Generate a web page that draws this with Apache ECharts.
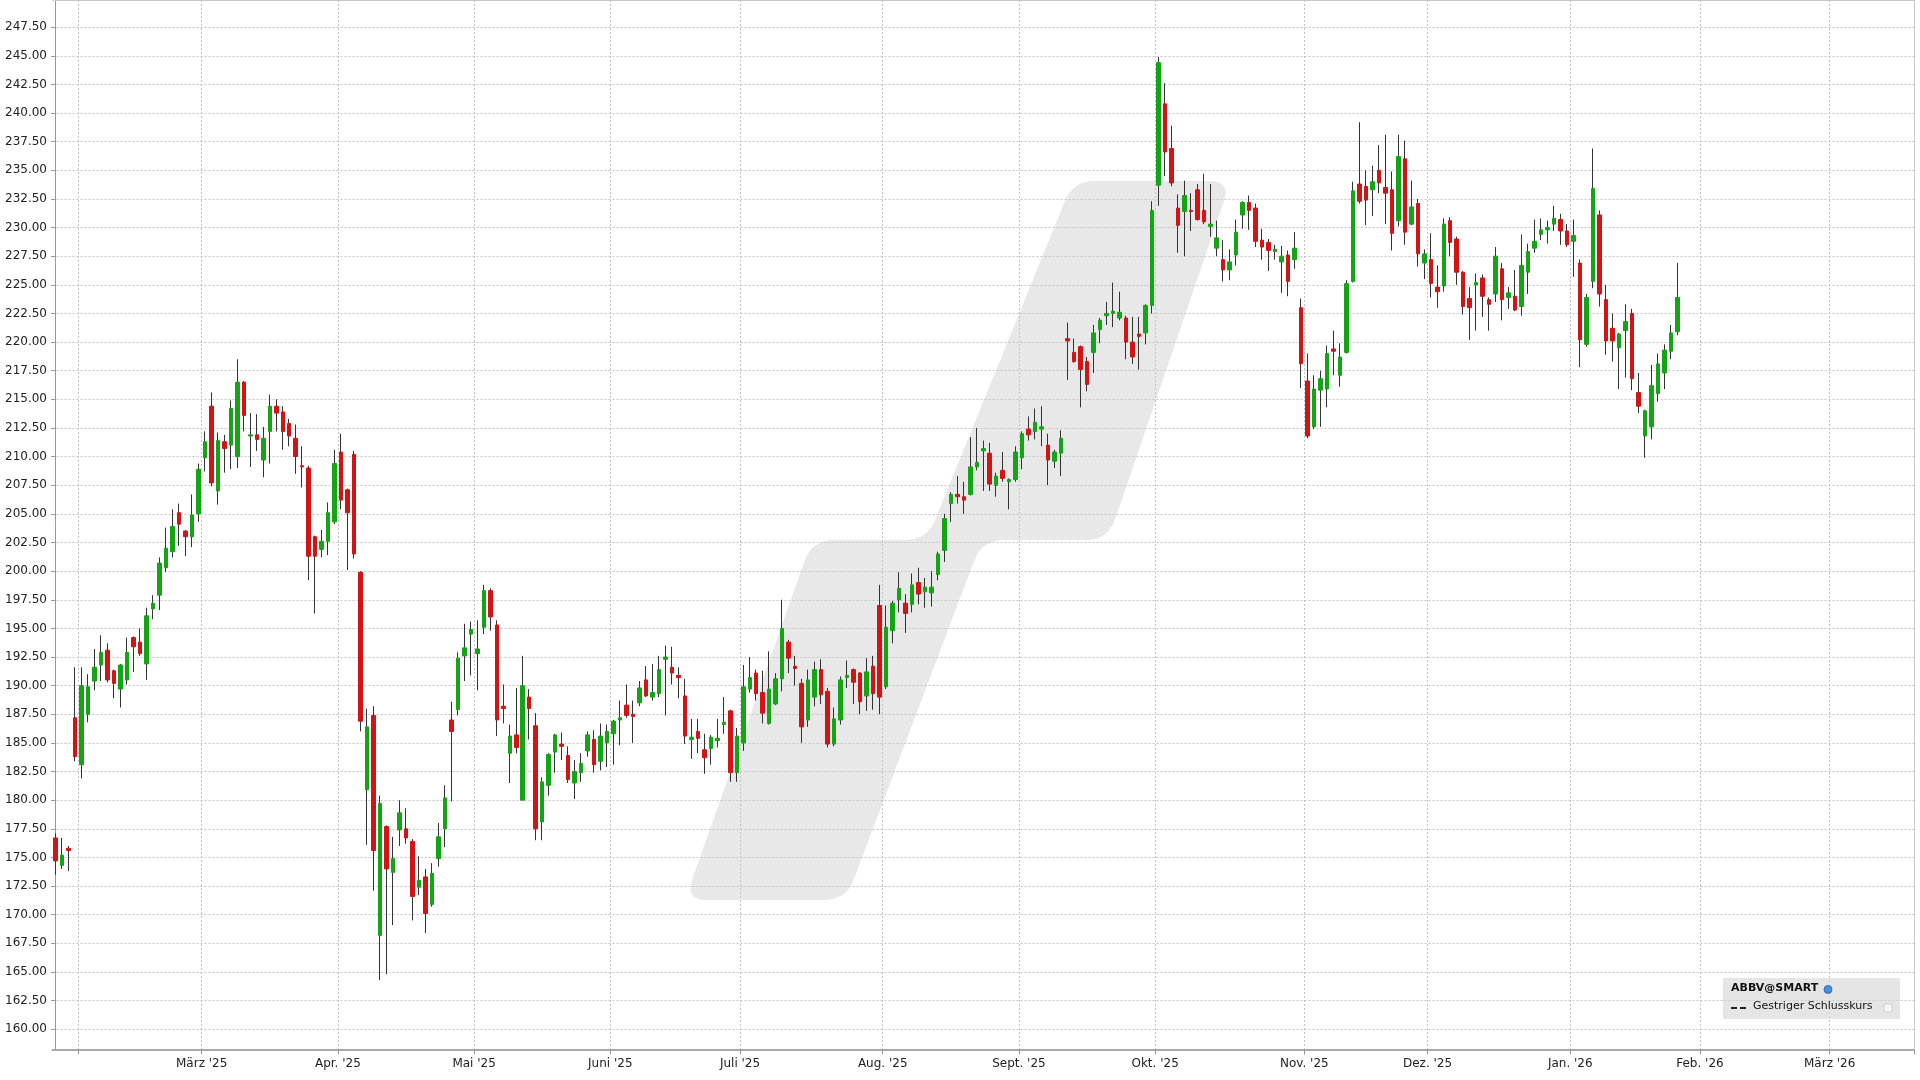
<!DOCTYPE html>
<html><head><meta charset="utf-8">
<script src="https://cdn.jsdelivr.net/npm/echarts@6/dist/echarts.min.js"></script>
<style>html,body{margin:0;padding:0;background:#fff}#c{width:1920px;height:1080px}</style>
</head><body><div id="c"></div>
<script>
// ---- calendar (trading days; future part of the axis = plain weekdays) ----
const firstDay = '2025-01-28';
const lastDay = '2026-03-18';
const holidays = ['2025-02-17','2025-04-18','2025-05-26','2025-06-19','2025-07-04','2025-09-01','2025-11-27','2025-12-25','2026-01-01','2026-01-19'];
const monthNames = ['Jan.','Feb.','März','Apr.','Mai','Juni','Juli','Aug.','Sept.','Okt.','Nov.','Dez.'];
const hiddenMonthLabels = ['2025-02'];

// ---- ABBV@SMART daily OHLC, 28.01.2025 – 27.01.2026 ----
const openVals = [
176.7,174.3,175.8,187.2,183.1,187.5,190.4,191.8,193.1,191.3,
189.7,190.5,194.2,193.8,191.9,196.7,197.9,200.3,201.7,205.1,
203.5,203.0,205.0,209.9,214.4,207.0,211.3,211.0,210.0,216.5,
211.8,211.9,209.7,212.2,214.4,213.9,212.9,211.6,209.2,209.0,
203.0,201.9,202.6,204.3,210.4,207.1,210.2,199.9,180.9,187.4,
168.2,177.7,173.7,177.4,177.5,176.4,172.4,173.3,170.9,174.9,
177.5,187.0,187.9,192.6,194.5,192.8,195.1,198.3,195.3,188.2,
184.1,185.7,180.0,189.0,186.5,178.1,181.3,184.2,184.9,183.9,
181.5,182.4,184.3,185.3,183.4,185.0,185.8,187.0,188.3,187.5,
188.5,190.5,189.0,189.3,192.3,191.6,190.9,189.1,185.3,186.0,
184.4,184.5,185.2,186.6,187.8,182.4,185.0,189.7,191.1,189.4,
186.7,188.4,190.6,193.8,191.7,190.2,187.0,189.0,191.4,189.5,
184.9,187.0,190.7,191.4,191.1,189.1,191.7,197.0,189.9,194.8,
197.5,197.2,197.1,199.0,198.2,198.1,199.7,201.8,205.9,206.7,
206.5,206.7,209.1,210.5,210.3,207.5,208.8,207.8,208.0,209.9,
212.4,212.2,212.4,211.0,209.6,210.3,220.3,219.1,219.6,218.3,
219.1,221.1,222.3,222.5,222.1,222.1,220.0,220.7,220.8,223.2,
233.7,240.8,236.9,231.7,231.4,231.5,233.3,231.5,230.1,228.2,
227.2,226.3,227.6,231.1,232.2,231.7,228.9,228.7,227.9,227.0,
227.6,227.2,223.0,216.6,212.6,215.8,215.9,219.4,217.1,219.1,
225.3,233.8,233.6,233.3,235.0,233.5,233.3,230.6,236.0,230.3,
232.1,226.9,227.2,224.8,224.9,230.6,229.0,226.1,223.8,225.0,
225.6,223.7,224.2,226.4,223.9,224.0,223.1,226.1,228.2,229.4,
229.8,230.3,230.7,229.7,228.8,226.9,219.8,225.3,231.1,223.7,
221.2,219.5,221.0,222.5,215.6,211.8,212.6,215.5,217.3,219.2,220.9];
const closeVals = [
174.7,175.2,175.6,183.8,190.0,189.9,191.6,192.9,190.5,190.2,
191.8,192.9,193.4,192.8,196.1,197.2,200.7,202.0,203.9,204.1,
203.0,204.9,208.9,211.3,207.7,211.4,210.7,214.2,216.5,213.6,
211.9,211.5,211.6,214.4,213.8,212.2,211.8,210.0,209.1,201.3,
201.3,202.6,205.1,209.4,206.2,205.1,201.5,186.9,186.4,175.6,
179.7,174.0,174.9,178.9,176.7,171.6,173.0,170.1,173.6,176.8,
180.2,186.0,192.4,193.3,194.9,193.2,198.3,196.0,187.0,188.0,
185.6,184.6,190.0,188.0,177.5,181.6,184.0,185.7,184.7,181.8,
182.5,183.2,185.7,183.1,185.6,186.0,186.9,187.2,187.4,187.3,
189.8,189.1,189.4,191.4,192.5,191.1,190.7,185.6,185.5,185.4,
183.7,185.5,185.4,186.8,182.4,185.6,189.9,190.7,189.3,187.6,
189.7,190.6,195.0,192.4,191.5,186.4,190.5,191.4,189.2,184.9,
187.1,190.5,190.9,190.3,188.6,191.2,189.3,189.0,195.1,197.2,
198.5,196.3,198.8,198.0,198.6,198.6,201.5,204.6,206.7,206.5,
206.2,209.1,209.5,210.7,207.6,208.3,208.1,208.0,210.4,212.0,
211.9,213.0,212.6,209.7,210.4,211.6,220.1,218.3,217.6,216.3,
220.8,221.9,222.5,222.7,222.6,220.0,218.7,220.5,223.2,231.5,
244.4,236.6,233.9,230.2,232.8,231.4,230.7,230.5,230.3,229.1,
226.3,227.0,229.6,232.2,231.5,228.8,228.3,228.0,228.1,227.5,
225.3,228.2,218.1,211.8,215.9,216.8,219.0,219.2,218.7,225.1,
233.2,232.3,232.4,234.0,233.9,233.0,229.5,236.2,229.6,231.8,
227.7,227.7,225.1,224.4,230.3,228.7,226.1,223.1,223.0,225.2,
224.0,223.3,227.5,223.7,224.3,222.8,226.7,227.9,228.8,229.8,
230.0,230.8,229.7,228.5,229.3,220.2,223.9,233.4,224.2,220.1,
220.1,220.7,221.8,216.8,214.4,214.0,216.2,218.1,219.3,220.8,223.9];
const highVals = [
177.1,176.7,176.0,191.6,191.6,191.0,193.2,194.4,193.7,191.4,
191.9,194.2,194.3,195.0,196.8,197.9,201.2,203.8,205.4,205.9,
203.6,206.7,209.4,212.2,215.6,212.1,211.9,214.9,218.5,216.6,
213.8,213.7,212.6,215.4,215.0,214.4,213.3,212.8,210.9,209.2,
203.1,203.6,206.0,210.6,212.0,207.2,210.5,200.0,188.0,188.2,
180.4,177.8,176.8,180.0,179.3,176.6,175.1,174.0,174.5,178.0,
181.3,188.6,192.9,195.4,195.6,195.7,198.8,198.5,195.7,190.1,
186.6,189.8,192.6,189.7,187.6,182.0,184.1,185.8,185.9,184.7,
183.5,184.1,186.0,186.1,186.7,186.6,187.0,188.7,190.1,188.7,
190.4,191.7,191.9,192.6,193.5,193.4,191.6,190.6,187.1,187.1,
185.8,185.7,187.1,189.0,187.9,186.3,191.8,192.5,191.4,191.3,
193.0,191.1,197.5,194.0,192.6,190.6,191.4,192.1,192.3,189.8,
188.1,190.8,192.2,191.5,191.2,192.4,192.6,198.8,197.0,197.4,
199.9,198.0,199.8,200.3,199.4,200.0,201.7,205.0,206.9,208.3,
207.8,211.7,212.5,211.4,211.2,208.6,210.4,208.1,210.9,212.2,
213.5,214.2,214.4,212.0,210.6,212.3,221.7,220.3,219.7,218.7,
221.5,222.1,223.5,225.2,224.4,222.3,222.2,222.2,223.3,232.3,
244.9,242.6,238.9,232.9,234.1,233.0,233.8,234.7,233.8,230.6,
228.9,228.1,230.7,232.3,232.8,232.1,229.9,229.0,228.5,228.4,
228.0,229.6,223.8,219.0,217.1,217.5,219.7,221.0,219.9,225.4,
234.0,239.2,235.0,235.4,237.2,238.1,234.9,238.1,237.6,234.1,
232.5,228.1,229.5,226.7,230.8,230.9,229.2,226.2,224.8,226.0,
225.9,223.9,228.3,226.9,224.8,226.3,229.4,228.6,230.7,230.8,
230.6,231.9,231.2,230.3,230.7,227.2,224.2,236.9,231.5,225.0,
222.5,220.8,223.3,222.9,217.3,214.1,218.0,219.0,219.8,221.5,226.9];
const lowVals = [
173.5,174.0,173.8,183.4,181.9,186.8,189.6,190.4,190.3,188.9,
188.1,190.1,191.2,192.6,190.5,195.8,196.6,199.9,201.2,202.2,
201.3,202.1,204.3,208.7,207.4,205.8,208.6,208.9,209.0,212.2,
209.1,210.5,208.2,209.4,212.2,210.6,210.9,208.5,207.3,199.2,
196.3,201.2,201.4,204.1,205.4,200.1,201.1,186.0,176.1,172.1,
164.3,164.8,169.1,176.0,176.2,169.5,171.7,168.4,170.7,174.2,
175.9,179.9,187.4,190.4,190.9,189.6,194.5,194.8,185.6,186.7,
181.5,184.1,180.0,185.3,176.5,176.5,180.4,182.4,183.5,181.5,
180.1,181.6,183.8,182.4,182.6,182.9,183.1,184.8,187.2,185.0,
188.2,189.0,188.7,189.0,187.4,190.1,188.9,184.9,183.6,184.1,
182.3,183.1,184.6,185.8,181.6,181.6,184.3,189.4,188.7,186.7,
186.6,188.3,189.5,191.1,190.0,185.0,186.4,188.2,188.4,184.6,
184.7,186.6,189.8,188.4,187.5,187.8,187.9,187.5,189.7,193.7,
196.4,194.6,196.4,197.1,196.8,196.9,199.2,200.8,204.3,205.9,
205.0,206.6,208.8,207.0,207.0,206.5,207.8,205.4,207.8,208.9,
211.4,211.5,210.9,207.5,209.0,208.3,216.7,218.2,214.3,215.7,
217.3,219.9,221.5,221.3,221.9,218.5,218.1,217.6,219.8,222.5,
231.9,234.5,233.6,227.8,227.5,229.7,230.6,230.3,229.2,227.5,
225.3,225.4,226.7,229.9,229.8,228.3,227.2,226.2,227.2,224.3,
224.0,226.4,216.0,211.6,212.4,212.6,214.3,217.1,216.1,219.0,
225.2,232.1,230.2,231.0,233.0,230.3,228.0,230.1,228.5,230.2,
226.6,225.5,223.9,223.0,224.4,227.5,225.0,222.4,220.2,221.0,
222.2,221.0,223.5,221.9,222.9,222.7,222.3,224.2,227.8,228.9,
228.6,229.7,228.5,228.3,225.7,217.8,219.6,224.7,223.1,218.9,
218.3,215.9,216.9,215.8,213.8,209.9,211.5,214.8,215.9,218.5,220.6];

// ---- build category axis ----
const dates = [];
(function(){
  const hs = new Set(holidays);
  let d = new Date(firstDay + 'T00:00:00Z');
  const end = new Date(lastDay + 'T00:00:00Z');
  while (d <= end) {
    const wd = d.getUTCDay();
    const s = d.toISOString().slice(0,10);
    if (wd !== 0 && wd !== 6 && !hs.has(s)) dates.push(s);
    d = new Date(d.getTime() + 86400000);
  }
})();
const monthStart = new Set();
for (let i = 1; i < dates.length; i++) if (dates[i].slice(0,7) !== dates[i-1].slice(0,7)) monthStart.add(i);
const isLabel = i => monthStart.has(i) && !hiddenMonthLabels.includes(dates[i].slice(0,7));
const fmtMonth = v => monthNames[+v.slice(5,7) - 1] + " '" + v.slice(2,4);

const wickData = openVals.map((o, i) => { const m = (o + closeVals[i]) / 2; return [m, m, lowVals[i], highVals[i]]; });
const bodyData = openVals.map((o, i) => [o, closeVals[i], Math.min(o, closeVals[i]), Math.max(o, closeVals[i])]);

// decorative background band (pixel outline)
function roundedPoly(pts, r, steps) {
  const out = [], n = pts.length;
  for (let i = 0; i < n; i++) {
    const p = pts[(i - 1 + n) % n], v = pts[i], q = pts[(i + 1) % n];
    const d1 = Math.hypot(p[0]-v[0], p[1]-v[1]), d2 = Math.hypot(q[0]-v[0], q[1]-v[1]);
    const rr = Math.min(r, d1 / 2, d2 / 2);
    const a = [v[0] + (p[0]-v[0]) / d1 * rr, v[1] + (p[1]-v[1]) / d1 * rr];
    const b = [v[0] + (q[0]-v[0]) / d2 * rr, v[1] + (q[1]-v[1]) / d2 * rr];
    for (let k = 0; k <= steps; k++) {
      const t = k / steps;
      out.push([(1-t)*(1-t)*a[0] + 2*(1-t)*t*v[0] + t*t*b[0], (1-t)*(1-t)*a[1] + 2*(1-t)*t*v[1] + t*t*b[1]]);
    }
  }
  return out;
}
const bandOutline = [[685,900],[812,540],[927,540],[1073,181],[1231,181],[1108,540],[982,540],[846,900]];

const FONT = 'DejaVu Sans';
const GL = 52.5, GR = 6, GT = 0, GB = 30.5;
const chart = echarts.init(document.getElementById('c'), null, {renderer: 'canvas'});
chart.setOption({
  backgroundColor: '#ffffff',
  animation: false,
  grid: { left: GL, right: GR, top: GT, bottom: GB, show: false },
  xAxis: {
    type: 'category', data: dates, boundaryGap: true,
    axisLine: { show: true, lineStyle: { color: '#a8a8a8', width: 2 } },
    axisTick: { show: true, length: 5, interval: i => monthStart.has(i), lineStyle: { color: '#999' } },
    axisLabel: { interval: i => isLabel(i), formatter: fmtMonth, fontFamily: FONT, fontSize: 12, color: '#222', margin: 8, padding: [0, 6.5, 0, 0] },
    splitLine: { show: true, interval: i => monthStart.has(i), lineStyle: { color: '#c4c4c4', type: [2, 2], width: 1 } }
  },
  yAxis: {
    type: 'value', min: 158.23, max: 249.87, minInterval: 2.5, maxInterval: 2.5, offset: -2.5,
    axisLine: { show: true, lineStyle: { color: '#999' } },
    axisTick: { show: true, length: 4, lineStyle: { color: '#999' } },
    axisLabel: { formatter: v => v.toFixed(2), fontFamily: FONT, fontSize: 12, color: '#222', margin: 8, showMinLabel: false, showMaxLabel: false },
    splitLine: { show: true, lineStyle: { color: '#c4c4c4', type: [2, 2], width: 1 } }
  },
  series: [
    { name: 'wick', type: 'candlestick', data: wickData, barWidth: 1, silent: true,
      itemStyle: { color: '#333', color0: '#333', borderColor: '#333', borderColor0: '#333', borderWidth: 1 } },
    { name: 'ABBV@SMART', type: 'candlestick', data: bodyData, barWidth: 4, silent: true,
      itemStyle: { color: '#14a514', color0: '#d21414', borderColor: '#14a514', borderColor0: '#d21414', borderWidth: 1 } }
  ],
  graphic: [
    { type: 'polygon', z: -100, silent: true, shape: { points: roundedPoly(bandOutline, 22, 8) }, style: { fill: '#e8e8e8' } },
    { type: 'line', z: 50, silent: true, shape: { x1: 55, y1: 0.5, x2: 1914.5, y2: 0.5 }, style: { stroke: '#c8c8c8', lineWidth: 1 } },
    { type: 'line', z: 50, silent: true, shape: { x1: 1914.5, y1: 0, x2: 1914.5, y2: 1049.5 }, style: { stroke: '#c8c8c8', lineWidth: 1 } },
    { type: 'rect', z: 100, silent: true, shape: { x: 1723, y: 978, width: 177, height: 41 }, style: { fill: 'rgba(212,212,212,0.6)' } },
    { type: 'text', z: 101, silent: true, left: 1731, top: 983, style: { text: 'ABBV@SMART', font: 'bold 11px "DejaVu Sans"', fill: '#111' } },
    { type: 'circle', z: 101, silent: true, shape: { cx: 1828, cy: 989.5, r: 4 }, style: { fill: '#4a8fe0', stroke: '#2b5fa8', lineWidth: 0.8 } },
    { type: 'line', z: 101, silent: true, shape: { x1: 1731, y1: 1008, x2: 1748, y2: 1008 }, style: { stroke: '#222', lineWidth: 2, lineDash: [6, 3] } },
    { type: 'text', z: 101, silent: true, left: 1753, top: 1001, style: { text: 'Gestriger Schlusskurs', font: '11px "DejaVu Sans"', fill: '#111' } },
    { type: 'rect', z: 101, silent: true, shape: { x: 1884, y: 1004, width: 8, height: 8 }, style: { fill: '#f6f6f6', stroke: '#d0d0d0', lineWidth: 1 } }
  ]
});
</script>
</body></html>
